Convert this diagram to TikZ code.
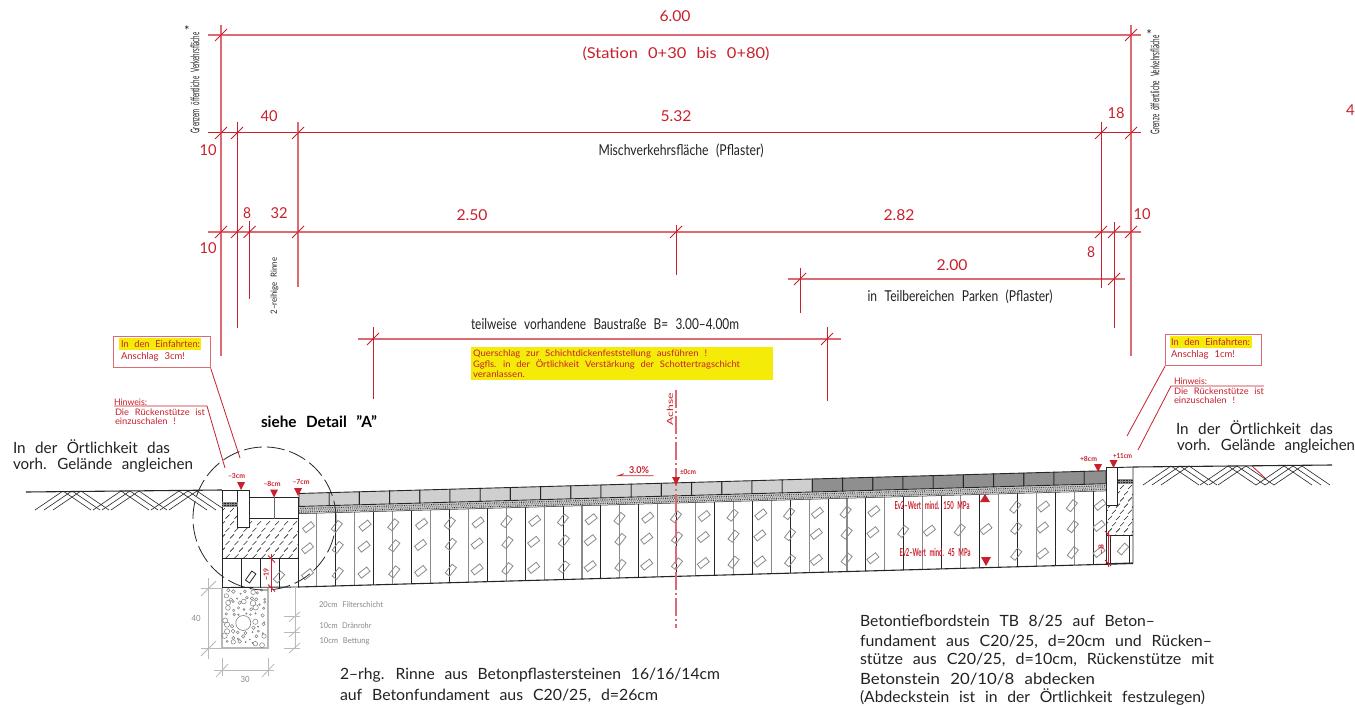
\documentclass[tikz,border=0pt]{standalone}
\usepackage{fontspec}
\usepackage{graphicx}
\setmainfont{Lato}
\definecolor{rd}{HTML}{C8202C}
\definecolor{rl}{HTML}{DC6A72}
\definecolor{tx}{HTML}{222222}
\definecolor{gy}{HTML}{8A8A8A}
\definecolor{gl}{HTML}{B9B9B9}
\definecolor{yl}{HTML}{F4EC08}
\newsavebox\fitbox
\newcommand\fitx[2]{\sbox\fitbox{\spaceskip=.62em\relax #2}\pgfmathsetmacro\fitscale{#1/\wd\fitbox}\scalebox{\fitscale}[1]{\usebox\fitbox}}
% name, x, y, width, size, colour, text : left-anchored label
\newcommand\lab[7]{\node[txt,text=#6,font=\fontsize{#5}{#5}\selectfont] (#1) at (#2,#3) {\fitx{#4}{#7}};}
% name, x, y, width, size, colour, text : centred label
\newcommand\cab[7]{\node[ctr,text=#6,font=\fontsize{#5}{#5}\selectfont] (#1) at (#2,#3) {\fitx{#4}{#7}};}
\newcommand\tick[2]{\draw[dimthin] (#1-6,#2+6) -- (#1+6,#2-6);}
\tikzset{
 txt/.style={anchor=west,inner sep=0pt,outer sep=0pt},
 ctr/.style={anchor=center,inner sep=0pt,outer sep=0pt},
 dimline/.style={draw=rl,line width=1.3pt},
 dimdark/.style={draw=rd,line width=1pt},
 dimthin/.style={draw=rd,line width=.8pt},
 grayline/.style={draw=gl,line width=1pt},
 cad/.style={draw=black!85,line width=.9pt},
 redtri/.style={fill=rd,draw=none},
 slab/.style={draw=gy,line width=.8pt,minimum width=11pt,minimum height=5.5pt,inner sep=0pt},
}
\begin{document}
\begin{tikzpicture}[x=1pt,y=-1pt]
\useasboundingbox (0,0) rectangle (1355,706);
\fill[white] (0,0) rectangle (1355,706);
\newcommand\topy[1]{(493.5-0.0282*(#1-298))}
\newcommand\boty[1]{(587-0.0282*(#1-298))}

% ---------- red dimension system ----------
\draw[dimline] (208,35) -- (1141,35);
\draw[dimdark] (208,133) -- (1141,133);
\draw[dimline] (208,232) -- (1141,232);
\draw[dimline] (788,279) -- (1125,279);
\draw[dimline] (358,339) -- (841,339);
\draw[dimline] (221,25) -- (221,356);
\draw[dimline] (1131,25) -- (1131,356);
\draw[dimdark] (237,122) -- (237,328);
\draw[dimline] (298,122) -- (298,287);
\draw[dimdark] (249.5,221) -- (249.5,299);
\draw[dimdark] (1101,122) -- (1101,288);
\draw[dimdark] (1114,222) -- (1114,328);
\draw[dimdark] (676,225) -- (676,275);
\draw[dimdark] (800,268) -- (800,313);
\draw[dimdark] (373,327) -- (373,399);
\draw[dimdark] (827,327) -- (827,401);
\foreach \p in {221,1131} {\tick{\p}{35}}
\foreach \p in {221,237,298,1101,1131} {\tick{\p}{133}}
\foreach \p in {221,237,249.5,298,676,1101,1114,1131} {\tick{\p}{232}}
\foreach \p in {800,1114} {\tick{\p}{279}}
\foreach \p in {373,827} {\tick{\p}{339}}

\cab{d600}{675}{16}{31}{15}{rd}{6.00}
\cab{station}{676}{54}{187}{15}{rd}{(Station 0+30 bis 0+80)}
\cab{d10a}{208}{150}{17}{15}{rd}{10}
\cab{d40}{269}{116}{17}{15}{rd}{40}
\cab{d532}{676}{116}{31}{15}{rd}{5.32}
\cab{d18}{1116}{113}{17}{15}{rd}{18}
\cab{d10b}{208}{248}{17}{15}{rd}{10}
\cab{d8a}{247}{213}{8}{15}{rd}{8}
\cab{d32}{279}{213}{17}{15}{rd}{32}
\cab{d250}{472}{215}{31}{15}{rd}{2.50}
\cab{d282}{899}{215}{31}{15}{rd}{2.82}
\cab{d8b}{1091}{252}{8}{15}{rd}{8}
\cab{d10c}{1142}{214}{17}{15}{rd}{10}
\cab{d200}{952}{265}{31}{15}{rd}{2.00}
\node[txt,text=rd,font=\fontsize{15}{15}\selectfont] (d4) at (1346,110) {4};

% black labels of the dimensions
\cab{misch}{681}{151}{165}{15}{tx}{Mischverkehrsfläche (Pflaster)}
\cab{parken}{960}{297}{185}{15}{tx}{in Teilbereichen Parken (Pflaster)}
\cab{bau}{605}{324}{268}{15}{tx}{teilweise vorhandene Baustraße B= 3.00--4.00m}
\node[ctr,rotate=90,text=tx,font=\fontsize{12}{12}\selectfont] (gl) at (195,83) {\fitx{101}{Grenzem öffentliche Verkehrsfläche}};
\node[ctr,text=tx,font=\fontsize{13}{13}\selectfont] (gls) at (187,31) {*};
\node[ctr,rotate=90,text=tx,font=\fontsize{12}{12}\selectfont] (gr) at (1155,85) {\fitx{99}{Grenze öffentliche Verkehrsfläche}};
\node[ctr,text=tx,font=\fontsize{13}{13}\selectfont] (grs) at (1149,35) {*};
\node[ctr,rotate=90,text=tx,font=\fontsize{8.5}{8.5}\selectfont] (rinne) at (274.5,286) {\fitx{57}{2--reihige Rinne}};

% yellow note
\fill[yl] (471,347) rectangle (773,380);
\lab{q1}{473}{354}{234}{9}{rd}{Querschlag zur Schichtdickenfeststellung ausführen !}
\lab{q2}{473}{364.5}{267}{9}{rd}{Ggfls. in der Örtlichkeit Verstärkung der Schottertragschicht}
\lab{q3}{473}{374}{52}{9}{rd}{veranlassen.}

% left notes
\node[draw=rl,line width=1.2pt,minimum width=96.5pt,minimum height=31pt,inner sep=0pt,anchor=north west] (boxl) at (113,336) {};
\fill[yl] (119,338) rectangle (201,350);
\lab{el1}{121}{344}{79}{9.5}{rd}{In den Einfahrten:}
\lab{el2}{121}{357}{64}{9.5}{rd}{Anschlag 3cm!}
\coordinate (lleadl) at (240,458);
\draw[dimthin] (boxl.south east) -- (lleadl);
\lab{hl1}{114}{402}{33}{9}{rd}{Hinweis:}
\coordinate (hla) at (114,406); \coordinate (hlb) at (207,406); \coordinate (hlc) at (225,468);
\draw[dimthin] (hla) -- (hlb) -- (hlc);
\lab{hl2}{115}{412.5}{90}{9}{rd}{Die Rückenstütze ist}
\lab{hl3}{115}{421}{61}{9}{rd}{einzuschalen !}

% right notes
\node[draw=rl,line width=1.2pt,minimum width=96pt,minimum height=31pt,inner sep=0pt,anchor=north west] (boxr) at (1165,334) {};
\fill[yl] (1170,336) rectangle (1252,348);
\lab{er1}{1171}{342}{79}{9.5}{rd}{In den Einfahrten:}
\lab{er2}{1171}{355}{64}{9.5}{rd}{Anschlag 1cm!}
\coordinate (lleadr) at (1127,436);
\draw[dimthin] (boxr.south west) -- (lleadr);
\lab{hr1}{1174}{381}{33}{9}{rd}{Hinweis:}
\coordinate (hra) at (1264,386); \coordinate (hrb) at (1171,386); \coordinate (hrc) at (1138,450);
\draw[dimthin] (hra) -- (hrb) -- (hrc);
\lab{hr2}{1174}{391}{90}{9}{rd}{Die Rückenstütze ist}
\lab{hr3}{1174}{400}{61}{9}{rd}{einzuschalen !}

% big texts
\lab{ol1}{13}{447}{157}{15.5}{tx}{In der Örtlichkeit das}
\lab{ol2}{13}{465}{180}{15.5}{tx}{vorh. Gelände angleichen}
\lab{or1}{1176}{428}{157}{15.5}{tx}{In der Örtlichkeit das}
\lab{or2}{1177}{446}{178}{15.5}{tx}{vorh. Gelände angleichen}
\lab{detail}{261}{422}{116}{15.5}{black}{\bfseries siehe Detail "A"}
\lab{b1}{340}{675}{380}{15.5}{tx}{2--rhg. Rinne aus Betonpflastersteinen 16/16/14cm}
\lab{b2}{340}{696}{318}{15.5}{tx}{auf Betonfundament aus C20/25, d=26cm}
\lab{c1}{860}{621}{295}{15.5}{tx}{Betontiefbordstein TB 8/25 auf Beton--}
\lab{c2}{860}{642}{352}{15.5}{tx}{fundament aus C20/25, d=20cm und Rücken--}
\lab{c3}{860}{660}{354}{15.5}{tx}{stütze aus C20/25, d=10cm, Rückenstütze mit}
\lab{c4}{860}{679}{235}{15.5}{tx}{Betonstein 20/10/8 abdecken}
\lab{c5}{860}{697}{345}{15.5}{tx}{(Abdeckstein ist in der Örtlichkeit festzulegen)}

% ---------- ground ----------
\draw[cad,line width=1.1pt] (26,492) -- (222,490);
\draw[cad,line width=1.1pt] (1133,467) -- (1332,465);
\foreach \c in {72,130,188}{
 \foreach \o in {-9,0,9}{
  \draw[black!85,line width=.6pt] (\c+\o,491) -- (\c+\o-28,510);
  \draw[black!85,line width=.6pt] (\c+\o,491) -- (\c+\o+28,510);
 }}
\foreach \c in {1180,1237,1293}{
 \foreach \o in {-9,0,9}{
  \draw[black!85,line width=.6pt] (\c+\o,466) -- (\c+\o-28,485);
  \draw[black!85,line width=.6pt] (\c+\o,466) -- (\c+\o+28,485);
 }}
\draw[dimthin] (1252,466) -- (1265,478);

% ---------- frost layer ----------
\foreach \k in {0,...,42}{
 \pgfmathsetmacro\xx{298+18.93*\k}
 \pgfmathsetmacro\ya{\topy{\xx}+20}
 \pgfmathsetmacro\yb{\boty{\xx}}
 \pgfmathparse{int(mod(\k,2))}
 \ifnum\pgfmathresult=0
  \draw[black!85,line width=.9pt] (\xx,\ya) -- (\xx,\yb);
 \else
  \draw[gy,line width=1.1pt] (\xx,\ya) -- (\xx,\yb);
 \fi
}
\foreach \k in {0,...,28}{
 \pgfmathsetmacro\xx{308.5+28.27*\k}
 \pgfmathsetmacro\ty{\topy{\xx}}
 \pgfmathparse{int(mod(\k,2))}
 \edef\odd{\pgfmathresult}
 \pgfmathsetmacro\xr{\xx-1+2*\odd}
 \pgfmathsetmacro\rt{\odd==1?52:38}
 \pgfmathparse{(\xx>895 && \xx<1000)?1:0}
 \edef\skp{\pgfmathresult}
 \ifdim\skp pt<.5pt
  \node[slab,rotate=\rt] (da\k) at (\xx,\ty+34) {};
  \node[slab,rotate=\rt] (dc\k) at (\xr,\ty+81) {};
 \fi
 \node[slab,rotate=\rt] (db\k) at (\xr,\ty+55) {};
}
\draw[black!85,line width=1.1pt] (298,587) -- (1133,563.5);
\draw[black!85,line width=1pt] (298,513.5) -- (1106,490.7);

% ---------- gravel strip ----------
\fill[gl!70] (298,507) -- (1106,484.2) -- (1106,490.7) -- (298,513.5) -- cycle;
\draw[black!80,line width=1.2pt,dash pattern=on .7pt off 1.1pt] (298,508.6) -- (1106,485.8);
\draw[black!70,line width=1.2pt,dash pattern=on .5pt off 1.4pt,dash phase=.8pt] (298,510.4) -- (1106,487.6);
\draw[black!80,line width=1.2pt,dash pattern=on .7pt off 1.1pt,dash phase=.4pt] (298,512.2) -- (1106,489.4);

% ---------- pavers ----------
\foreach \k in {0,...,26}{
 \pgfmathsetmacro\xa{299+30.2*\k}
 \pgfmathsetmacro\xb{min(1106,\xa+30.2)}
 \pgfmathsetmacro\ya{\topy{\xa}}
 \pgfmathsetmacro\yb{\topy{\xb}}
 \pgfmathparse{\xa>800?1:0}
 \ifdim\pgfmathresult pt>.5pt
  \def\pc{black!44}
 \else
  \def\pc{black!19}
 \fi
 \filldraw[fill=\pc,draw=black!85,line width=.9pt] (\xa,\ya) -- (\xb,\yb) -- (\xb,\yb+13) -- (\xa,\ya+13) -- cycle;
}

% ---------- left structure ----------
\fill[white] (222,490) rectangle (298,587);
\begin{scope}
 \clip (222,507) -- (237.5,507) -- (237.5,527.5) -- (249.5,527.5) -- (249.5,518.7) -- (298,518.7) -- (298,558) -- (222,558) -- cycle;
 \foreach \r in {0,...,8}{
  \foreach \c in {0,...,9}{
   \pgfmathsetmacro\xx{221+9*\c+4.5*mod(\r,2)}
   \pgfmathsetmacro\yy{510+6.6*\r}
   \draw[black!85,line width=.6pt] (\xx,\yy+2) -- (\xx+4,\yy-2);
  }}
\end{scope}
\draw[cad] (222,490) -- (222,587);
\draw[cad] (222,558) -- (298,558);
\draw[cad] (222,490) -- (237.5,490);
\draw[cad] (249.5,518.7) -- (298,518.7);
\draw[cad] (249.5,497) -- (298,497);
\draw[cad,draw=black!60] (274,497) -- (274,518.7);
\draw[cad] (298,497) -- (298,587);
\filldraw[fill=white,draw=black!85,line width=.8pt] (237.5,490) rectangle (249.5,527.5);
\fill[black!45] (222,502) rectangle (237.5,507);
\draw[black!85,line width=1pt,dash pattern=on .7pt off .9pt] (222,503.5) -- (237.5,503.5);
\draw[black!85,line width=1pt,dash pattern=on .7pt off .9pt] (222,505.7) -- (237.5,505.7);
\foreach \p in {241,260,279}{\draw[cad] (\p,558) -- (\p,587.5);}
\draw[cad] (222,587.5) -- (298,587);
\node[draw=black!85,line width=.8pt,minimum width=11pt,minimum height=5pt,inner sep=0pt,rotate=55] (dl1) at (250.7,577) {};
\node[slab,rotate=48] (dl2) at (279,577) {};

% drainage trench
\draw[gl,line width=1.3pt] (222,588) -- (222,648) -- (268,648) -- (268,588);
\pgfmathsetseed{4711}
\foreach \r in {0,...,9}{
 \foreach \c in {0,...,6}{
  \pgfmathsetmacro\px{226.5+6.2*\c+2.2*rand}
  \pgfmathsetmacro\py{592+5.7*\r+2*rand}
  \pgfmathsetmacro\pr{1.7+1.1*rand}
  \pgfmathparse{veclen(\px-243.3,\py-623)>(8.7+\pr)?1:0}
  \ifdim\pgfmathresult pt>.5pt
   \draw[black!50,line width=.5pt] (\px,\py) circle[radius=\pr];
  \fi
 }}
\draw[black!50,line width=.6pt] (243.3,623) circle[radius=7.5];
\draw[grayline] (208.5,578) -- (208.5,659);
\draw[gl,line width=.8pt] (201,596) -- (216,581);
\draw[gl,line width=.8pt] (201,656) -- (216,641);
\draw[gl,line width=.8pt] (201,588) -- (222,588);
\draw[gl,line width=.8pt] (201,648) -- (222,648);
\draw[grayline] (214,670.7) -- (274,670.7);
\draw[gl,line width=.8pt] (222,658) -- (222,676);
\draw[gl,line width=.8pt] (268,658) -- (268,676);
\draw[gl,line width=.8pt] (216,677) -- (228,664);
\draw[gl,line width=.8pt] (262,677) -- (274,664);
\draw[grayline] (295,586) -- (295,648);
\foreach \p in {616.7,632,648}{
 \draw[gl,line width=.8pt] (284,\p) -- (300,\p);
 \draw[gl,line width=.8pt] (289,\p+5) -- (300,\p-5);
}
\cab{g40}{196}{618}{9}{8.5}{gy}{40}
\cab{g30}{245}{679}{9}{8.5}{gy}{30}
\lab{f1}{319}{605}{64}{8}{gy}{20cm Filterschicht}
\lab{f2}{319.5}{626}{52}{8}{gy}{10cm Dränrohr}
\lab{f3}{319.5}{641}{50}{8}{gy}{10cm Bettung}

% ---------- right structure ----------
\fill[white] (1106,467) rectangle (1133,563);
\begin{scope}
 \clip (1117.7,484) -- (1133,484) -- (1133,535.7) -- (1106,535.7) -- (1106,505) -- (1117.7,505) -- cycle;
 \foreach \r in {0,...,8}{
  \foreach \c in {0,...,4}{
   \pgfmathsetmacro\xx{1104+8*\c+4*mod(\r,2)}
   \pgfmathsetmacro\yy{487+6.2*\r}
   \draw[black!85,line width=.6pt] (\xx,\yy+2) -- (\xx+4,\yy-2);
  }}
\end{scope}
\filldraw[fill=white,draw=black!85,line width=.8pt] (1106,467.5) rectangle (1117.7,505);
\draw[cad] (1117.7,467.5) -- (1133,467) -- (1133,562.5);
\fill[black!45] (1117.7,479) rectangle (1133,484);
\draw[black!85,line width=1pt,dash pattern=on .7pt off .9pt] (1117.7,480.5) -- (1133,480.5);
\draw[black!85,line width=1pt,dash pattern=on .7pt off .9pt] (1117.7,482.7) -- (1133,482.7);
\draw[cad] (1106,505) -- (1106,564);
\draw[cad] (1106,535.7) -- (1133,535.7);
\draw[cad] (1110.7,535.7) -- (1110.7,563);
\draw[cad] (1129.5,535.7) -- (1129.5,562.5);
\draw[black!85,line width=1.1pt] (1106,563.8) -- (1133,563);
\node[slab,rotate=48] (dr1) at (1123,549) {};

% ---------- dashed detail circle ----------
\node[draw=black!85,line width=.8pt,dash pattern=on 18pt off 5pt,circle,minimum size=143pt,inner sep=0pt] (detailc) at (264.5,518.5) {};

% ---------- axis ----------
\draw[dimline,dash pattern=on 18pt off 3pt on 2pt off 3pt] (676,390) -- (676,628);
\node[ctr,rotate=90,text=rd,font=\fontsize{8.5}{8.5}\selectfont] (achse) at (670,409) {\fitx{32}{Achse}};

% ---------- level marks ----------
\foreach \tx/\ty in {241/482,274/489.5,298/488,1098/464,1113.5/460,676/477}{
 \fill[redtri] (\tx-4,\ty) -- (\tx+4,\ty) -- (\tx,\ty+8) -- cycle;
}
\cab{m3}{236.5}{476}{17}{7}{rd}{\bfseries --3cm}
\cab{m8}{272}{483.5}{17}{7}{rd}{\bfseries --8cm}
\cab{m7}{301}{482}{17}{7}{rd}{\bfseries --7cm}
\cab{p8}{1088.5}{459}{17}{7}{rd}{\bfseries +8cm}
\cab{p11}{1122.5}{456}{19}{7}{rd}{\bfseries +11cm}
\cab{p0}{688}{472}{16}{7}{rd}{\bfseries ±0cm}
\cab{pc}{639}{470}{20}{9.5}{rd}{\bfseries 3.0\%}
\coordinate (sa) at (618,475.8); \coordinate (sb) at (653.5,475.8); \coordinate (sc) at (624,473.7);
\draw[dimthin] (sc) -- (sa) -- (sb);

% small red dimensions
\draw[dimthin] (271.5,554) -- (271.5,592);
\draw[dimthin] (268,555.5) -- (275,562.5);
\draw[dimthin] (268,584.5) -- (275,591.5);
\node[ctr,rotate=90,text=rd,font=\fontsize{7}{7}\selectfont\bfseries] (m19) at (266,574) {\fitx{12}{\textasciitilde 19}};
\draw[dimthin] (1108,531) -- (1108,567);
\draw[dimthin] (1105,531) -- (1111,537);
\draw[dimthin] (1105,560) -- (1111,566);
\node[ctr,rotate=90,text=rd,font=\fontsize{7}{7}\selectfont\bfseries] (m8r) at (1101,549) {\fitx{10}{\textasciitilde 8}};

% ---------- Ev2 ----------
\cab{ev1}{932}{505}{75}{11}{rd}{\bfseries Ev2--Wert mind. 150 MPa}
\cab{ev2}{935}{552}{71}{11}{rd}{\bfseries Ev2--Wert mind. 45 MPa}
\fill[redtri] (980,502) -- (990,502) -- (985,494) -- cycle;
\fill[redtri] (981,557) -- (991,557) -- (986,566) -- cycle;
\end{tikzpicture}
\end{document}
